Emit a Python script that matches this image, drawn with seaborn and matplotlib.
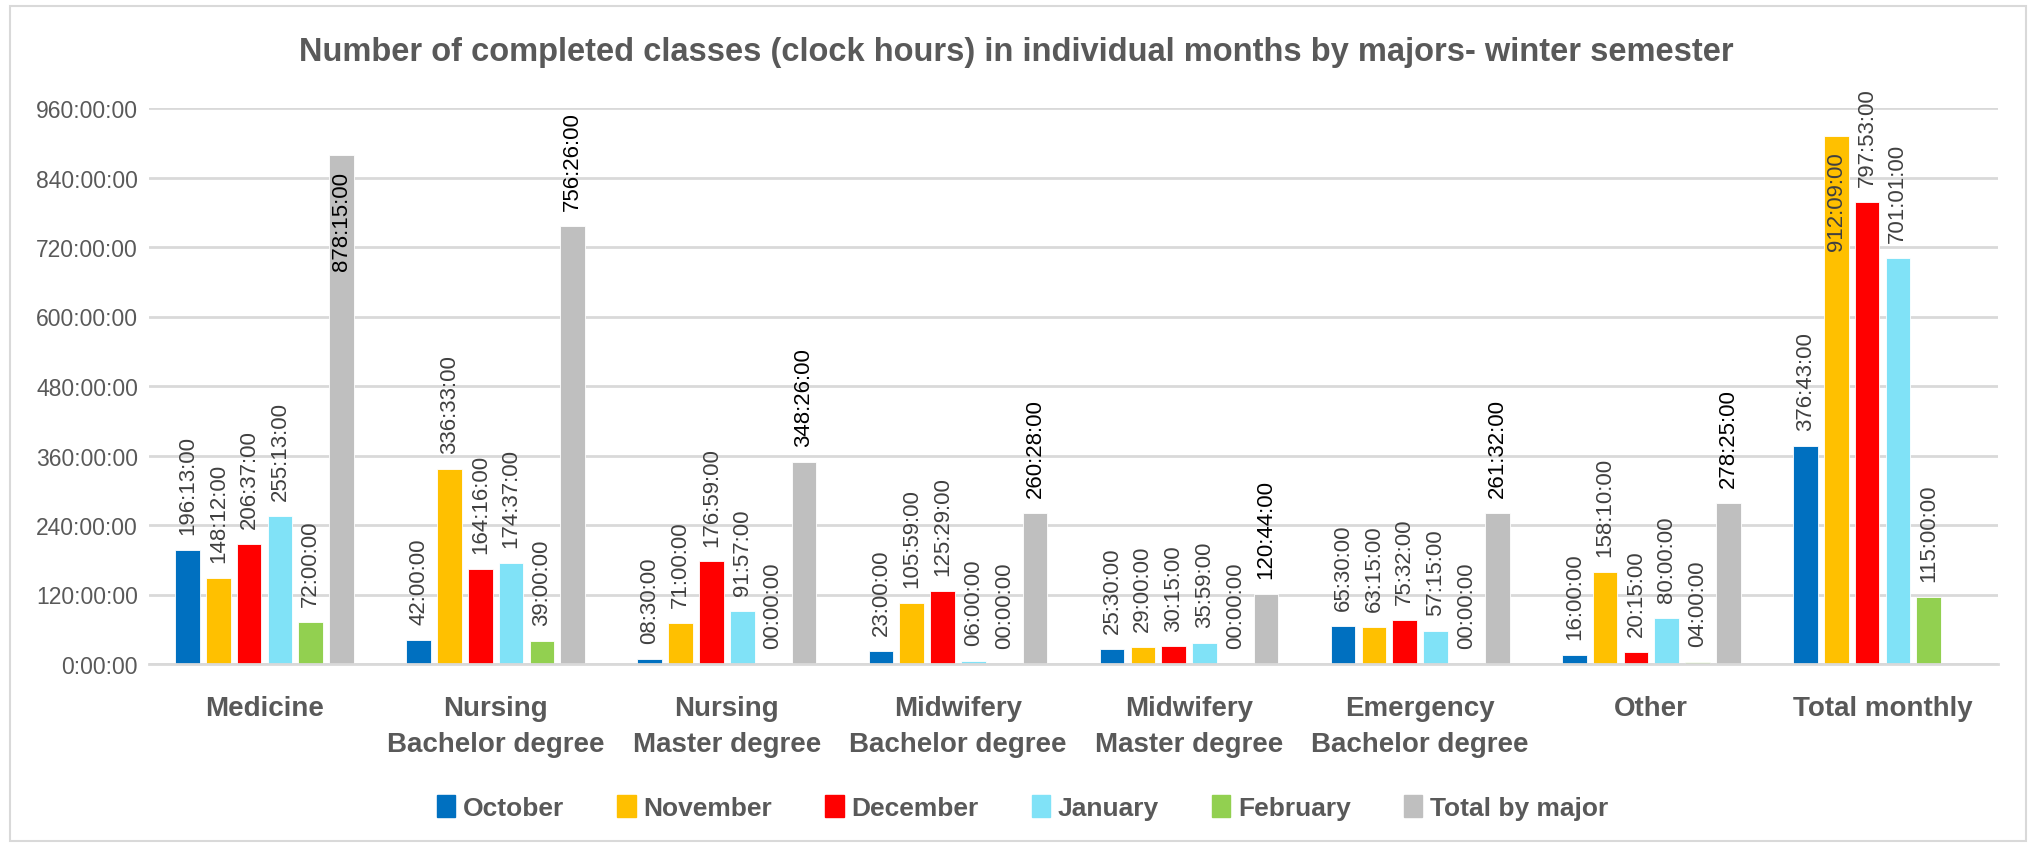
import pandas as pd
import seaborn as sns
import matplotlib.pyplot as plt
import matplotlib.patches as mpatches
import numpy as np

majors = ["Medicine", "Nursing\nBachelor degree", "Nursing\nMaster degree",
          "Midwifery\nBachelor degree", "Midwifery\nMaster degree",
          "Emergency\nBachelor degree", "Other", "Total monthly"]
months = ["October", "November", "December", "January", "February", "Total by major"]

october = ["196:13:00", "42:00:00", "08:30:00", "23:00:00", "25:30:00", "65:30:00", "16:00:00", "376:43:00"]
november = ["148:12:00", "336:33:00", "71:00:00", "105:59:00", "29:00:00", "63:15:00", "158:10:00", "912:09:00"]
december = ["206:37:00", "164:16:00", "176:59:00", "125:29:00", "30:15:00", "75:32:00", "20:15:00", "797:53:00"]
january = ["255:13:00", "174:37:00", "91:57:00", "06:00:00", "35:59:00", "57:15:00", "80:00:00", "701:01:00"]
february = ["72:00:00", "39:00:00", "00:00:00", "00:00:00", "00:00:00", "00:00:00", "04:00:00", "115:00:00"]
total_by_major = ["878:15:00", "756:26:00", "348:26:00", "260:28:00", "120:44:00", "261:32:00", "278:25:00", None]

colors = ["#0070C0", "#FFC000", "#FF0000", "#80E2F7", "#92D050", "#BFBFBF"]
y_ticks = [0, 120, 240, 360, 480, 600, 720, 840, 960]


def to_hours(s):
    if s is None:
        return np.nan
    h, m, sec = s.split(":")
    return int(h) + int(m) / 60 + int(sec) / 3600


rows = []
for month, vals in zip(months, [october, november, december, january, february, total_by_major]):
    for major, v in zip(majors, vals):
        rows.append({"major": major, "month": month, "hours": to_hours(v), "label": v})
df = pd.DataFrame(rows)

sns.set_theme(style="white")
plt.rcParams['font.family'] = ['Liberation Sans', 'DejaVu Sans']

fig = plt.figure(figsize=(20.33, 8.45), dpi=100)
ax = fig.add_axes([149 / 2033, 180 / 845, 1849 / 2033, 556 / 845])

sns.barplot(data=df, x="major", y="hours", hue="month", order=majors, hue_order=months,
            palette=colors, saturation=1, width=0.8, gap=0.2, ax=ax, legend=True,
            edgecolor="white", linewidth=0.6)

ax.set_ylim(0, 960)
ax.set_xlim(-0.5, 7.5)
ax.set_yticks(y_ticks)
ax.set_yticklabels([f"{t}:00:00" for t in y_ticks], fontsize=16.5, color="#595959")
ax.set_xticks(range(len(majors)))
ax.set_xticklabels(majors, fontsize=20, fontweight="bold", color="#595959", linespacing=1.5)
ax.tick_params(axis="x", length=0, pad=22)
ax.tick_params(axis="y", length=0, pad=8)
ax.set_xlabel("")
ax.set_ylabel("")
ax.grid(axis="y", color="#D9D9D9", linewidth=2)
ax.set_axisbelow(True)
for side in ["top", "right", "left"]:
    ax.spines[side].set_visible(False)
ax.spines["bottom"].set_color("#D9D9D9")
ax.spines["bottom"].set_linewidth(2)

# value labels, rotated
for month, container in zip(months, ax.containers):
    labels = df[df["month"] == month]["label"].tolist()
    for bar, lab in zip(container, labels):
        if lab is None or np.isnan(bar.get_height()):
            continue
        x = bar.get_x() + bar.get_width() / 2
        h = bar.get_height()
        col = "black" if month == "Total by major" else "#404040"
        if h > 840:
            # too tall: label sits inside the top of the bar
            ax.annotate(lab, (x, h), xytext=(0, -11), textcoords="offset points",
                        rotation=90, ha="center", va="top", fontsize=16, color=col)
        else:
            ax.annotate(lab, (x, h), xytext=(0, 11.5), textcoords="offset points",
                        rotation=90, ha="center", va="bottom", fontsize=16, color=col,
                        annotation_clip=False)

ax.get_legend().remove()
handles = [mpatches.Patch(color=c, label=m) for c, m in zip(colors, months)]
leg = fig.legend(handles=handles, loc="center", bbox_to_anchor=(0.503, 0.043), ncol=6,
                 frameon=False, fontsize=19, handlelength=0.7, handleheight=0.9,
                 handletextpad=0.3, columnspacing=2.0)
for t in leg.get_texts():
    t.set_fontweight("bold")
    t.set_color("#595959")

fig.text(0.5, 0.938, "Number of completed classes (clock hours) in individual months by majors- winter semester",
         ha="center", va="center", fontsize=23.5, fontweight="bold", color="#595959")

fig.patches.append(mpatches.Rectangle((10 / 2033, 3 / 845), 2016 / 2033, 835 / 845,
                                      transform=fig.transFigure, fill=False,
                                      edgecolor="#D9D9D9", linewidth=1.5))

fig.savefig("out.png", dpi=100, facecolor="white")
